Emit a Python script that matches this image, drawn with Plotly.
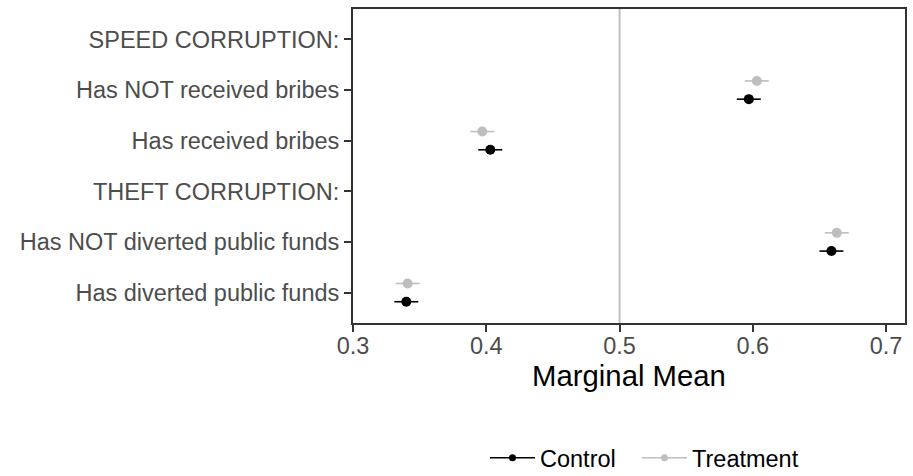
import plotly.graph_objects as go

# Attribute levels, listed bottom to top
levels = [
    "Has diverted public funds",
    "Has NOT diverted public funds",
    "THEFT CORRUPTION:",
    "Has received bribes",
    "Has NOT received bribes",
    "SPEED CORRUPTION:",
]
level_pos = [1, 2, 3, 4, 5, 6]

# Marginal means (None for header rows) and 95% CI bounds
control_mean = [0.340, 0.659, None, 0.403, 0.597, None]
control_low = [0.331, 0.650, None, 0.394, 0.588, None]
control_high = [0.349, 0.668, None, 0.412, 0.606, None]

treatment_mean = [0.341, 0.663, None, 0.397, 0.603, None]
treatment_low = [0.332, 0.654, None, 0.388, 0.594, None]
treatment_high = [0.350, 0.672, None, 0.406, 0.612, None]

x_ticks = [0.3, 0.4, 0.5, 0.6, 0.7]
dodge = 0.18

FONT = "Liberation Sans, Arial, Helvetica, sans-serif"
BLACK = "#000000"
GREY = "#BEBEBE"


def series(mean, low, high, offset):
    xs, ys, plus, minus = [], [], [], []
    for m, lo, hi, p in zip(mean, low, high, level_pos):
        if m is None:
            continue
        xs.append(m)
        ys.append(p + offset)
        plus.append(hi - m)
        minus.append(m - lo)
    return xs, ys, plus, minus


fig = go.Figure()

for name, mean, low, high, off, col, leg in [
    ("Control", control_mean, control_low, control_high, -dodge, BLACK, "legend"),
    ("Treatment", treatment_mean, treatment_low, treatment_high, dodge, GREY, "legend2"),
]:
    xs, ys, plus, minus = series(mean, low, high, off)
    fig.add_trace(go.Scatter(
        x=xs, y=ys, mode="markers", showlegend=False,
        marker=dict(color=col, size=10),
        error_x=dict(type="data", array=plus, arrayminus=minus,
                     color=col, thickness=1.6, width=0),
    ))
    # legend key: line with a dot
    fig.add_trace(go.Scatter(
        x=[None], y=[None], mode="lines+markers", name=name, legend=leg,
        line=dict(color=col, width=1.6),
        marker=dict(color=col, size=7),
    ))

fig.add_shape(type="line", xref="x", yref="paper", x0=0.5, x1=0.5, y0=0, y1=1,
              line=dict(color=GREY, width=2), layer="below")

legend_style = dict(
    orientation="h", xref="container", yref="container",
    xanchor="left", y=0.038, yanchor="middle",
    font=dict(size=23.5, color=BLACK), itemwidth=45,
    bgcolor="rgba(0,0,0,0)", borderwidth=0,
)

fig.update_layout(
    width=913, height=476,
    margin=dict(l=353, r=6, t=9, b=153),
    plot_bgcolor="white", paper_bgcolor="white",
    font=dict(family=FONT, size=23.5, color=BLACK),
    xaxis=dict(
        range=[0.3, 0.7142], tickvals=x_ticks,
        ticktext=[f"{v:.1f}" for v in x_ticks],
        showgrid=False, zeroline=False,
        showline=True, mirror=True, linecolor="#333333", linewidth=2,
        ticks="outside", ticklen=7, tickwidth=2, tickcolor="#333333",
        tickfont=dict(size=23.5, color="#4D4D4D"),
        ticklabelstandoff=-6,
        title=dict(text="Marginal Mean", font=dict(size=29.3, color=BLACK), standoff=6),
    ),
    yaxis=dict(
        range=[0.4, 6.6], tickvals=level_pos, ticktext=levels,
        showgrid=False, zeroline=False,
        showline=True, mirror=True, linecolor="#333333", linewidth=2,
        ticks="outside", ticklen=7, tickwidth=2, tickcolor="#333333",
        tickfont=dict(size=23.5, color="#4D4D4D"),
    ),
    legend=dict(legend_style, x=485 / 913),
    legend2=dict(legend_style, x=637 / 913),
)

fig.write_html("out.html")
